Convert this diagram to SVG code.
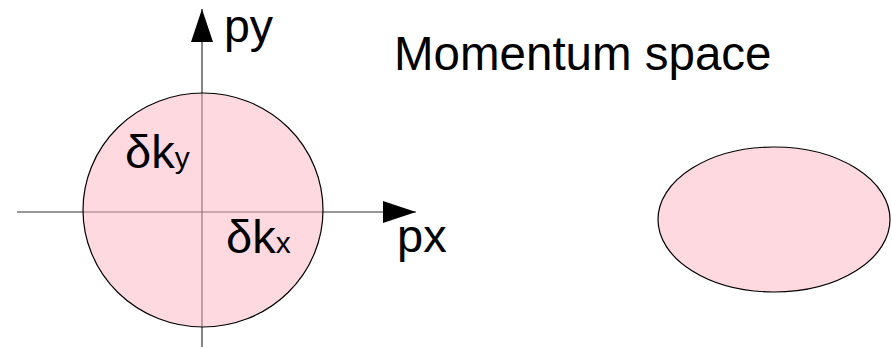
<svg xmlns="http://www.w3.org/2000/svg" width="892" height="347" viewBox="0 0 892 347">
<style>
.t{font-family:"Liberation Sans",Arial,sans-serif;font-size:47px;fill:#000}
.s{font-size:30px}
.axis{stroke:#333;stroke-width:1.2;fill:none}
.blob{fill:#ffb3c1;fill-opacity:0.5;stroke:#000;stroke-width:1.2}
</style>
<defs>
<marker id="ah" viewBox="0 0 33 22" refX="33" refY="11" markerWidth="33" markerHeight="22" markerUnits="userSpaceOnUse" orient="auto">
<path d="M0,0 L33,11 L0,22 Z" fill="#000"/>
</marker>
</defs>
<rect width="892" height="347" fill="#fff"/>
<g id="connectors">
<line class="axis" x1="17" y1="212" x2="416" y2="212" marker-end="url(#ah)"/>
<line class="axis" x1="202" y1="347" x2="202" y2="9" marker-end="url(#ah)"/>
</g>
<g id="circle">
<ellipse class="blob" cx="203" cy="210" rx="120" ry="117"/>
<text class="t" x="125" y="168">δk<tspan class="s">y</tspan></text>
<text class="t" x="226" y="253">δk<tspan class="s">x</tspan></text>
</g>
<g id="ellipse">
<ellipse cx="774" cy="219.5" rx="116" ry="72.5" fill="#ffd9e0" stroke="#000" stroke-width="1.2"/>
</g>
<g id="labels">
<text class="t" x="224" y="42" style="font-size:46.5px">py</text>
<text class="t" x="397" y="252">px</text>
<text class="t" x="394" y="70" style="font-size:47.5px">Momentum space</text>
</g>
</svg>
